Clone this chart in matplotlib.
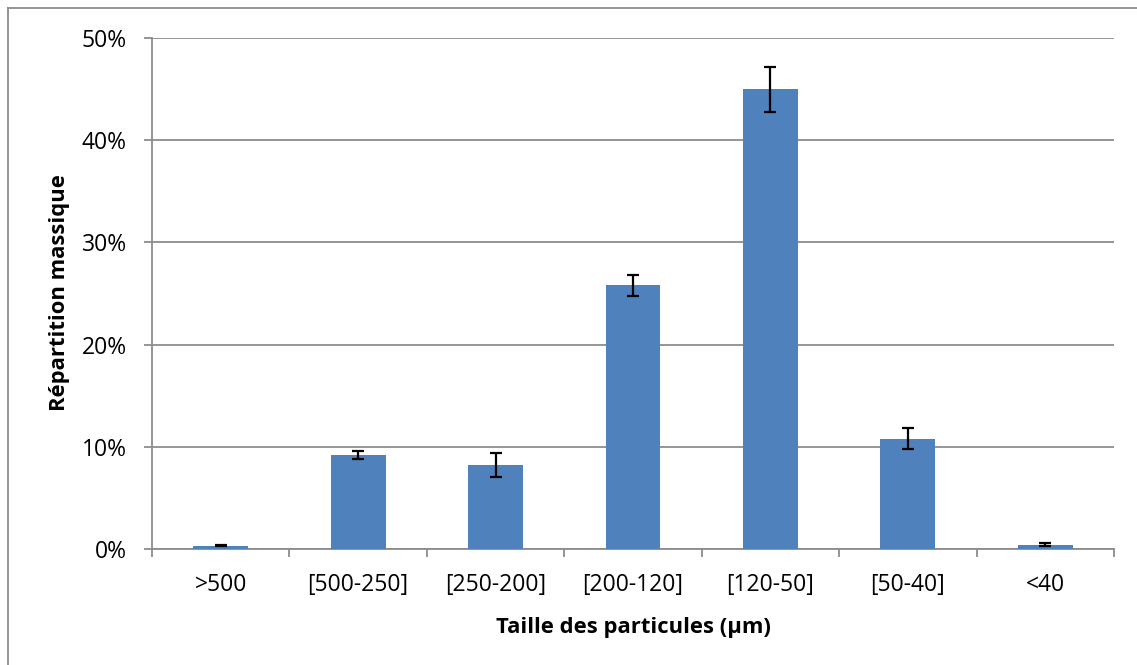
import matplotlib
matplotlib.use("Agg")
import matplotlib.pyplot as plt
from matplotlib.lines import Line2D
from matplotlib.ticker import FuncFormatter, FixedLocator, NullFormatter

categories = [">500", "[500-250]", "[250-200]", "[200-120]", "[120-50]", "[50-40]", "<40"]
values = [0.3, 9.2, 8.2, 25.8, 45.0, 10.8, 0.4]
errors = [0.05, 0.35, 1.2, 1.0, 2.2, 1.05, 0.15]
y_ticks = [0, 10, 20, 30, 40, 50]

plt.rcParams['font.family'] = ['Open Sans', 'DejaVu Sans']

W, H = 1137, 665
fig = plt.figure(figsize=(W / 100, H / 100), dpi=100)
ax = fig.add_axes([152 / W, 1 - 549 / H, (1114 - 152) / W, (549 - 38) / H])

grey = "#8c8c8c"
x = list(range(len(categories)))
ax.bar(x, values, width=0.4, color="#4F81BD", zorder=3)
ax.errorbar(x, values, yerr=errors, fmt="none", ecolor="black",
            elinewidth=1.6, capsize=4.3, capthick=1.6, zorder=4)

ax.set_xlim(-0.5, len(categories) - 0.5)
ax.set_ylim(0, 50)
ax.set_yticks(y_ticks)
ax.yaxis.set_major_formatter(FuncFormatter(lambda v, p: f"{int(v)}%"))
ax.grid(axis="y", color=grey, linewidth=1.3, zorder=0)

ax.set_xticks(x)
ax.set_xticklabels(categories)
ax.xaxis.set_minor_locator(FixedLocator([i - 0.5 for i in range(len(categories) + 1)]))
ax.xaxis.set_minor_formatter(NullFormatter())
ax.tick_params(axis="x", which="major", length=0, labelsize=16.5, pad=17)
ax.tick_params(axis="x", which="minor", length=6, width=1.3, color=grey, direction="out")
ax.tick_params(axis="y", length=6, width=1.3, color=grey, labelsize=16.5, pad=12)

for s in ["top", "right"]:
    ax.spines[s].set_visible(False)
for s in ["left", "bottom"]:
    ax.spines[s].set_color(grey)
    ax.spines[s].set_linewidth(1.3)

fig.text(60 / W, 1 - 293 / H, "Répartition massique", rotation=90,
         ha="center", va="center", fontsize=15.8, fontweight="bold")
fig.text(633 / W, 1 - 628 / H, "Taille des particules (µm)",
         ha="center", va="center", fontsize=15.8, fontweight="bold")

fig.add_artist(Line2D([8 / W, 8 / W], [0, 1 - 8 / H], transform=fig.transFigure,
                      color=grey, linewidth=1.3))
fig.add_artist(Line2D([8 / W, 1], [1 - 8 / H, 1 - 8 / H], transform=fig.transFigure,
                      color=grey, linewidth=1.3))

fig.savefig("out.png", dpi=100)
